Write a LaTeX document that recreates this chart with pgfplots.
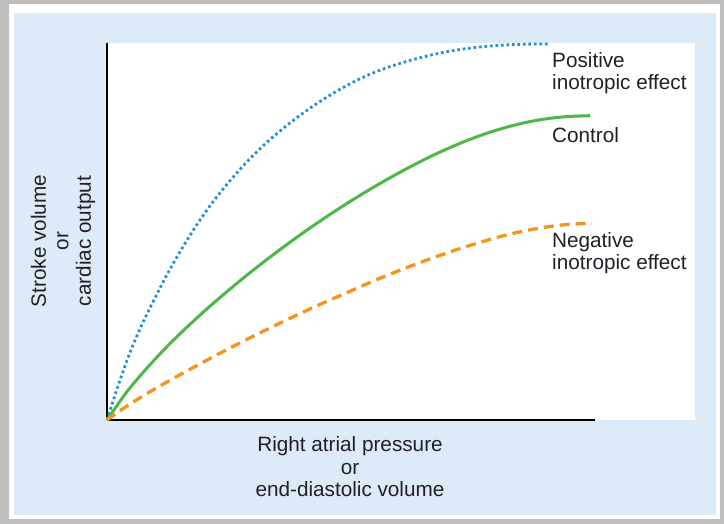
\documentclass[border=0pt]{standalone}
\usepackage{pgfplots}
\pgfplotsset{compat=1.18}
\usepackage{fontspec}
\setmainfont{Liberation Sans}
\definecolor{bgblue}{RGB}{221,234,247}
\definecolor{shadow}{RGB}{190,190,190}
\definecolor{txt}{RGB}{35,31,40}
\definecolor{cblue}{RGB}{30,144,216}
\definecolor{cgreen}{RGB}{77,184,72}
\definecolor{corange}{RGB}{247,148,29}
\begin{document}
\begin{tikzpicture}[x=1bp,y=1bp]
\fill[shadow] (0,0) rectangle (724,-524);
\fill[white] (9,-4) rectangle (720,-519);
\fill[bgblue] (14,-13) rectangle (716,-515);
\fill[white] (107,-43) rectangle (695,-420);
\begin{axis}[
  at={(107bp,-420bp)}, anchor=south west,
  scale only axis, width=488bp, height=377bp,
  xmin=0, xmax=488, ymin=0, ymax=377,
  axis x line*=bottom, axis y line*=left,
  axis line style={-, black, line width=1.1bp},
  xtick=\empty, ytick=\empty,
  clip=false,
]
\addplot[cblue, line width=2.8bp, dash pattern=on 2.6bp off 2.9bp, smooth] coordinates {
(0,0) (10,31) (20,59.7) (30,84.3) (40,106.1) (60,145.3) (80,179.9) (100,210.1) (120,235.7) (140,258.3) (160,277.8) (180,294.7) (200,309.7) (220,323) (240,334.6) (260,344.5) (280,352.3) (300,358.7) (320,364) (340,368.3) (360,371.5) (380,373.7) (400,375.1) (420,375.8) (441,376)
};
\addplot[cgreen, line width=3bp, smooth] coordinates {
(0,0) (20,28.4) (40,52) (60,73.4) (80,92.9) (100,111.2) (120,128.4) (140,144.9) (160,160.6) (180,175.6) (200,189.9) (220,203.6) (240,216.6) (260,228.9) (280,240.5) (300,251.5) (320,261.8) (340,271.1) (360,279.5) (380,286.8) (400,292.9) (420,297.8) (440,301.3) (460,303.4) (483,304.3)
};
\addplot[corange, line width=3.3bp, dash pattern=on 10bp off 6bp, smooth] coordinates {
(0,0) (20,14) (40,26.5) (60,38) (80,49.1) (100,59.9) (120,70.5) (140,80.7) (160,90.6) (180,100.3) (200,109.7) (220,118.7) (240,127.4) (260,136.2) (280,144.6) (300,152.5) (320,160) (340,167.1) (360,173.7) (380,179.7) (400,185.2) (420,189.6) (440,193.1) (460,195.5) (485,196.8)
};
\end{axis}
\begin{scope}[every node/.style={text=txt, font=\fontsize{20.8}{22.5}\selectfont, inner sep=0pt}]
\node[anchor=west, align=left] at (552,-73) {Positive\\inotropic effect};
\node[anchor=west] at (552,-135) {Control};
\node[anchor=west, align=left] at (552,-253) {Negative\\inotropic effect};
\node[align=center] at (350,-467) {Right atrial pressure\\or\\end-diastolic volume};
\node[align=center, rotate=90] at (63,-241) {Stroke volume\\or\\cardiac output};
\end{scope}
\end{tikzpicture}
\end{document}
